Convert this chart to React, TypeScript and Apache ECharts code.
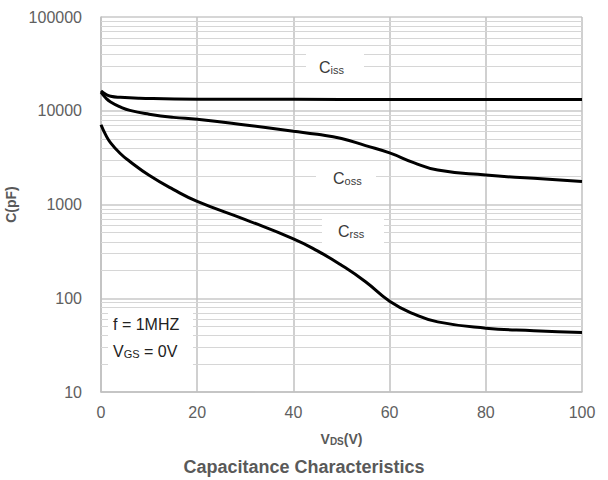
import React, { useEffect, useRef } from "react";
import * as echarts from "echarts";

const xTicks = [0, 20, 40, 60, 80, 100];
const yTicks = [10, 100, 1000, 10000, 100000];
const minorMultipliers = [2, 3, 4, 5, 6, 7, 8, 9];

const cissData: [number, number][] = [
  [0, 16300], [1, 15000], [2, 14300], [4, 13900], [8, 13600], [20, 13300],
  [40, 13250], [60, 13200], [80, 13200], [100, 13200],
];
const cossData: [number, number][] = [
  [0, 15800], [1, 13700], [2, 12400], [4, 11000], [6, 10100], [10, 9200],
  [15, 8500], [20, 8100], [30, 7050], [40, 6050], [45, 5600], [50, 5050],
  [55, 4250], [60, 3550], [65, 2800], [70, 2330], [80, 2060], [90, 1900], [100, 1760],
];
const crssData: [number, number][] = [
  [0, 7100], [1, 5500], [2, 4550], [4, 3500], [6, 2880], [10, 2050],
  [15, 1450], [20, 1080], [30, 690], [40, 430], [45, 320], [50, 225],
  [55, 150], [60, 93], [65, 68], [70, 56], [80, 48], [90, 45], [100, 43],
];

const labelFont = "'Liberation Sans', Arial, sans-serif";

export default function App() {
  const ref = useRef<HTMLDivElement>(null);
  useEffect(() => {
    if (!ref.current) return;
    const chart = echarts.init(ref.current, null, { renderer: "svg" });

    const minorLines: any[] = [];
    for (let k = 1; k <= 4; k++) {
      const base = Math.pow(10, k);
      minorMultipliers.forEach((m) => minorLines.push({ yAxis: m * base }));
    }

    const lineSeries = (name: string, data: [number, number][]) => ({
      name,
      type: "line",
      data,
      smooth: 0.5,
      showSymbol: false,
      symbol: "none",
      lineStyle: { color: "#000", width: 3 },
      z: 5,
    });

    const subLabel = (main: string, sub: string) => ({
      text: `{m|${main}}{s|${sub}}`,
      rich: {
        m: { fontSize: 16, fontFamily: labelFont, fill: "#3a3a3a", verticalAlign: "bottom", lineHeight: 20 },
        s: { fontSize: 11, fontFamily: labelFont, fill: "#3a3a3a", verticalAlign: "bottom", lineHeight: 14 },
      },
    });

    chart.setOption({
      animation: false,
      backgroundColor: "#fff",
      grid: { left: 101, right: 26, top: 17, bottom: 88, outerBoundsMode: "none", containLabel: false },
      xAxis: {
        type: "value",
        min: 0,
        max: 100,
        interval: 20,
        name: "{v|V}{s|DS}{v|(V)}",
        nameLocation: "middle",
        nameGap: 40,
        nameTextStyle: {
          rich: {
            v: { fontSize: 14, fontWeight: "bold", color: "#595959", fontFamily: labelFont, verticalAlign: "bottom" },
            s: { fontSize: 10, fontWeight: "bold", color: "#595959", fontFamily: labelFont, verticalAlign: "bottom" },
          },
        },
        axisLine: { show: true, lineStyle: { color: "#c0c0c0", width: 1.5 } },
        axisTick: { show: false },
        axisLabel: { color: "#606060", fontSize: 16, fontFamily: labelFont, margin: 12 },
        splitLine: { show: true, lineStyle: { color: "#c0c0c0", width: 1.5 } },
      },
      yAxis: {
        type: "log",
        logBase: 10,
        min: 10,
        max: 100000,
        name: "C(pF)",
        nameLocation: "middle",
        nameGap: 77,
        nameTextStyle: { fontSize: 14, fontWeight: "bold", color: "#595959", fontFamily: labelFont },
        axisLine: { show: true, lineStyle: { color: "#c0c0c0", width: 1.5 } },
        axisTick: { show: false },
        axisLabel: {
          color: "#606060",
          fontSize: 16,
          fontFamily: labelFont,
          margin: 19,
          formatter: (v: number) => String(Math.round(v)),
        },
        splitLine: { show: true, lineStyle: { color: "#c8c8c8", width: 1.5 } },
      },
      title: {
        text: "Capacitance Characteristics",
        left: "center",
        top: 453,
        textStyle: { fontSize: 18, fontWeight: "bold", color: "#595959", fontFamily: labelFont },
      },
      series: [
        {
          type: "line",
          data: [],
          silent: true,
          markLine: {
            silent: true,
            symbol: "none",
            label: { show: false },
            lineStyle: { color: "#d6d6d6", width: 1.2, type: "solid" },
            data: minorLines,
            z: 1,
          },
          z: 1,
        },
        lineSeries("Ciss", cissData),
        lineSeries("Coss", cossData),
        lineSeries("Crss", crssData),
      ],
      graphic: [
        { type: "rect", shape: { x: 306, y: 50, width: 58, height: 30 }, style: { fill: "#fff" }, z: 10 },
        { type: "text", x: 319, y: 55, style: subLabel("C", "iss"), z: 11 },
        { type: "rect", shape: { x: 316, y: 162, width: 60, height: 30 }, style: { fill: "#fff" }, z: 10 },
        { type: "text", x: 333, y: 166, style: subLabel("C", "oss"), z: 11 },
        { type: "rect", shape: { x: 322, y: 215, width: 62, height: 30 }, style: { fill: "#fff" }, z: 10 },
        { type: "text", x: 338, y: 219, style: subLabel("C", "rss"), z: 11 },
        { type: "rect", shape: { x: 108, y: 312, width: 85, height: 54 }, style: { fill: "#fff" }, z: 10 },
        {
          type: "text",
          x: 113,
          y: 316,
          style: { text: "f = 1MHZ", fontSize: 16, fontFamily: labelFont, fill: "#222" },
          z: 11,
        },
        {
          type: "text",
          x: 113,
          y: 339,
          style: {
            text: "{m|V}{s|GS}{m| = 0V}",
            rich: {
              m: { fontSize: 16, fontFamily: labelFont, fill: "#222", verticalAlign: "bottom", lineHeight: 20 },
              s: { fontSize: 11, fontFamily: labelFont, fill: "#222", verticalAlign: "bottom", lineHeight: 12 },
            },
          },
          z: 11,
        },
      ],
    });
    return () => chart.dispose();
  }, []);
  return <div ref={ref} style={{ position: "fixed", left: 0, top: 0, width: 608, height: 480 }} />;
}
